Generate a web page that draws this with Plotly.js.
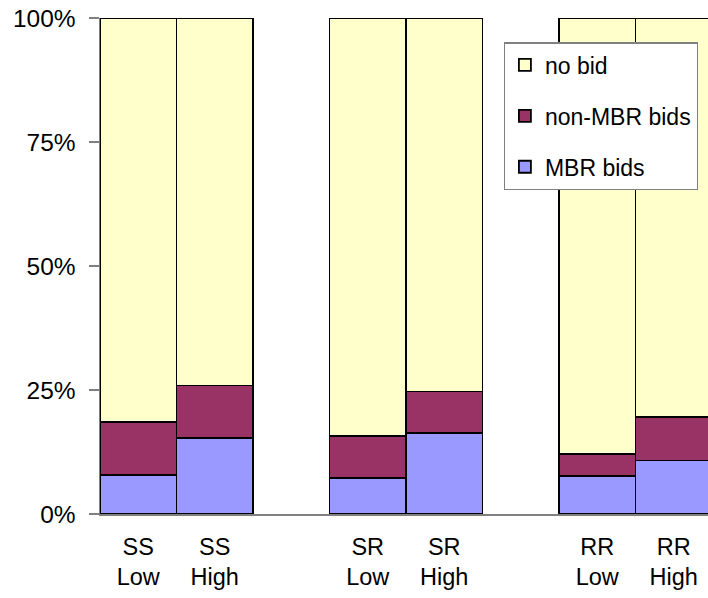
<!DOCTYPE html>
<html>
<head>
<meta charset="utf-8">
<script src="https://cdn.plot.ly/plotly-3.0.1.min.js"></script>
<style>html,body{margin:0;padding:0;background:#fff;}#chart{width:708px;height:598px;}</style>
</head>
<body>
<div id="chart"></div>
<script>
var categories = ['SS<br>Low', 'SS<br>High', 'SR<br>Low', 'SR<br>High', 'RR<br>Low', 'RR<br>High'];
var groupIndex = [0, 0, 1, 1, 2, 2];
var withinIndex = [0, 1, 0, 1, 0, 1];
var mbrBids = [0.079, 0.153, 0.073, 0.163, 0.077, 0.108];
var nonMbrBids = [0.106, 0.106, 0.084, 0.084, 0.044, 0.088];
var noBid = [0.815, 0.741, 0.843, 0.753, 0.879, 0.804];
var seriesNames = ['MBR bids', 'non-MBR bids', 'no bid'];
var yTickVals = [0, 0.25, 0.5, 0.75, 1];
var yTickText = ['0%', '25%', '50%', '75%', '100%'];

var xPos = groupIndex.map(function (g, i) { return g * 3 + withinIndex[i]; });
var colors = ['#9999FF', '#993366', '#FFFFCC'];
var data = [mbrBids, nonMbrBids, noBid].map(function (vals, k) {
  return {
    type: 'bar', x: xPos, y: vals, name: seriesNames[k], legendgroup: 'g' + k,
    legendrank: 3 - k,
    width: 1,
    marker: { color: colors[k], line: { color: '#000', width: 1.8 } },
    hoverinfo: 'none'
  };
});
var family = 'Arial, "Liberation Sans", sans-serif';
var layout = {
  width: 708, height: 598,
  margin: { l: 100, r: 0, t: 18, b: 84, pad: 0 },
  paper_bgcolor: '#fff', plot_bgcolor: '#fff',
  font: { family: family, size: 24, color: '#000' },
  barmode: 'stack', bargap: 0,
  showlegend: true,
  legend: {
    x: 0.664, y: 0.951, xanchor: 'left', yanchor: 'top',
    bgcolor: '#fff', bordercolor: '#808080', borderwidth: 1.2,
    traceorder: 'grouped', tracegroupgap: 18,
    font: { family: family, size: 23, color: '#000' },
    itemwidth: 30
  },
  xaxis: {
    range: [-0.5, 7.448], tickmode: 'array', tickvals: xPos, ticktext: categories,
    showgrid: false, zeroline: false, showline: true, linecolor: '#808080', linewidth: 1.5,
    ticks: '', ticklabelstandoff: 11, fixedrange: true,
    tickfont: { family: family, size: 23.5, color: '#000' }
  },
  yaxis: {
    range: [0, 1], tickmode: 'array', tickvals: yTickVals, ticktext: yTickText,
    showgrid: false, zeroline: false, showline: true, linecolor: '#808080', linewidth: 1.5,
    ticks: 'outside', ticklen: 10, tickcolor: '#808080', tickwidth: 1.5,
    ticklabelstandoff: 8, fixedrange: true,
    tickfont: { family: family, size: 24.5, color: '#000' }
  }
};
Plotly.newPlot('chart', data, layout, { displayModeBar: false, staticPlot: true });
</script>
</body>
</html>
